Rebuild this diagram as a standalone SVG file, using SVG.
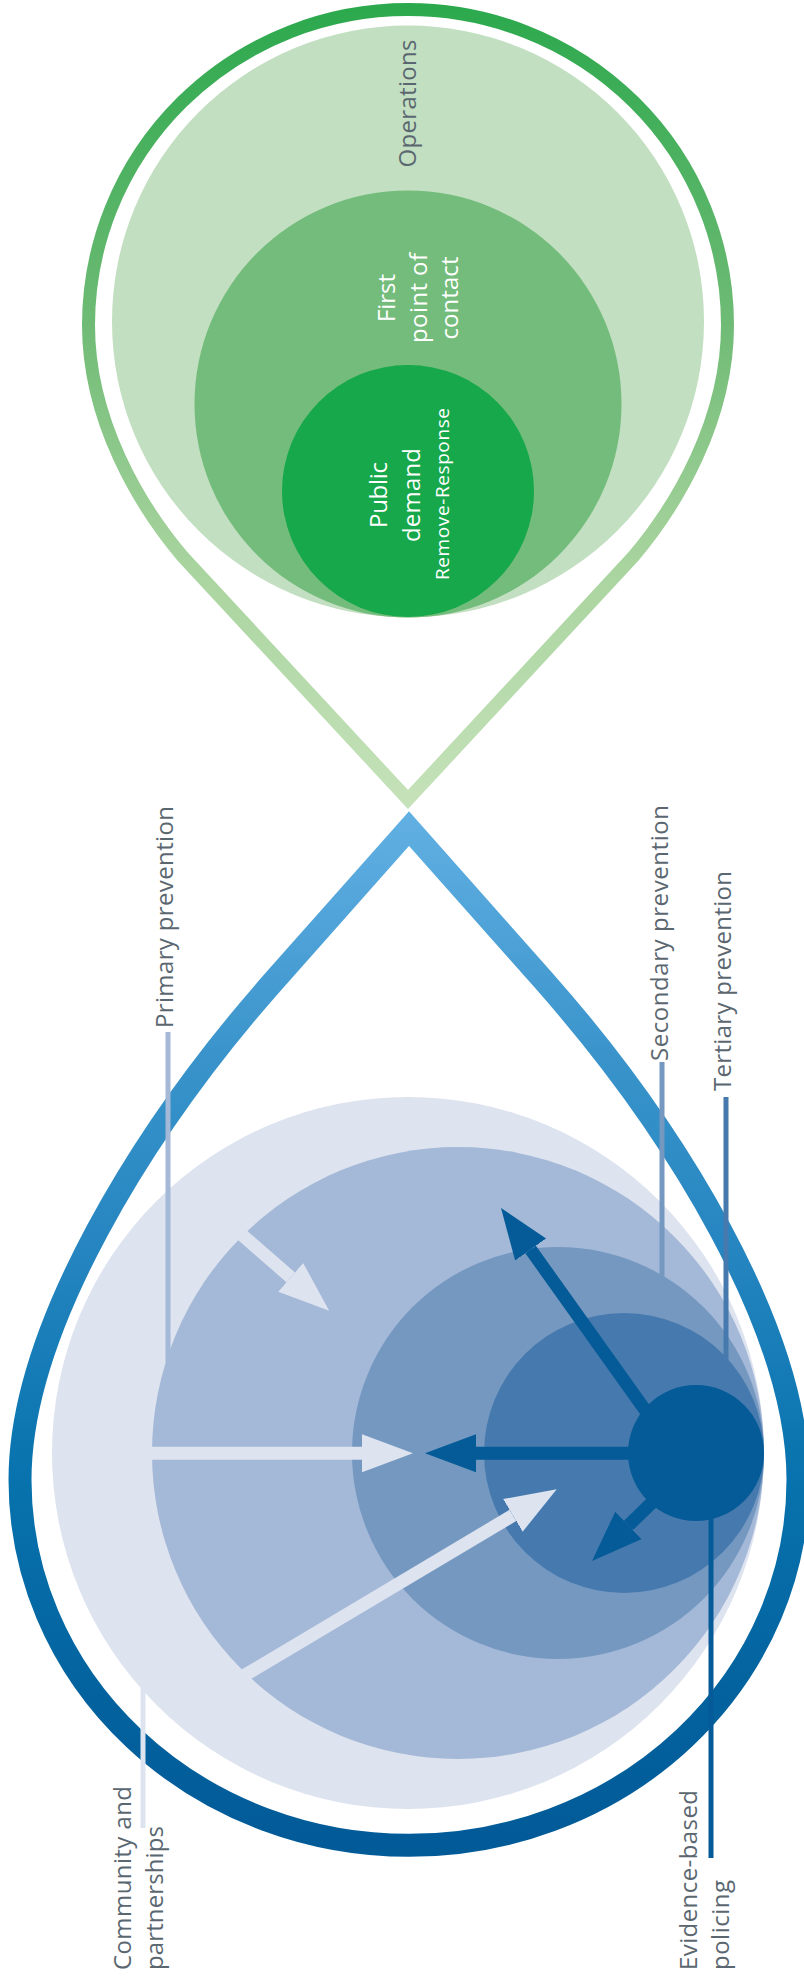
<svg xmlns="http://www.w3.org/2000/svg" width="804" height="1984" viewBox="0 0 804 1984">
  <defs>
    <style>
      .lbl { font-family: "Open Sans", "Noto Sans", sans-serif; font-size: 24px; fill: #5B6770; }
      .inner { font-family: "Open Sans", "Noto Sans", sans-serif; font-size: 24px; fill: #FFFFFF; text-anchor: middle; }
      .small { font-size: 19px; }
      .frame { fill: none; stroke-linejoin: miter; stroke-miterlimit: 10; }
      .shaft { stroke-width: 13; stroke-linecap: butt; }
      .lightArrow { stroke: #DDE3EF; marker-end: url(#headLight); }
      .darkArrow { stroke: #045B97; marker-end: url(#headDark); }
      .leader { stroke-width: 5; fill: none; }
    </style>
    <linearGradient id="gGreen" gradientUnits="userSpaceOnUse" x1="0" y1="0" x2="0" y2="810">
      <stop offset="0" stop-color="#2AA84C"/>
      <stop offset="0.4" stop-color="#6FBB75"/>
      <stop offset="0.7" stop-color="#A9D49F"/>
      <stop offset="1" stop-color="#C6E2BA"/>
    </linearGradient>
    <linearGradient id="gBlue" gradientUnits="userSpaceOnUse" x1="0" y1="812" x2="0" y2="1858">
      <stop offset="0" stop-color="#62B0E3"/>
      <stop offset="0.23" stop-color="#3A94CB"/>
      <stop offset="0.42" stop-color="#2585C0"/>
      <stop offset="0.63" stop-color="#0873AE"/>
      <stop offset="0.85" stop-color="#03629E"/>
      <stop offset="1" stop-color="#025A97"/>
    </linearGradient>
    <marker id="headLight" markerUnits="userSpaceOnUse" viewBox="0 0 52 40" markerWidth="52" markerHeight="40" refX="0" refY="20" orient="auto">
      <path d="M0,1 L51,20 L0,39 Z" fill="#DDE3EF"/>
    </marker>
    <marker id="headDark" markerUnits="userSpaceOnUse" viewBox="0 0 52 40" markerWidth="52" markerHeight="40" refX="0" refY="20" orient="auto">
      <path d="M0,1 L51,20 L0,39 Z" fill="#045B97"/>
    </marker>
  </defs>

  <!-- upper pin: response side -->
  <g id="response-frame">
    <path class="frame" stroke="url(#gGreen)" stroke-width="13"
          d="M408,799.5 L183,557 C139,505 88.5,420 88.5,325 A319.5 315.5 0 0 1 727.5,325 C727.5,420 677,505 633,557 Z"/>
  </g>

  <g id="operations">
    <circle cx="408" cy="321.5" r="296" fill="#C2DFC1"/>
    <text class="lbl" transform="translate(416,167.5) rotate(-90)" textLength="128" lengthAdjust="spacing">Operations</text>
  </g>

  <g id="first-point-of-contact">
    <circle cx="408" cy="404" r="213.5" fill="#74BC7B"/>
    <text class="inner" transform="translate(395,298) rotate(-90)" textLength="48" lengthAdjust="spacing">First</text>
    <text class="inner" transform="translate(426.5,298) rotate(-90)" textLength="90" lengthAdjust="spacing">point of</text>
    <text class="inner" transform="translate(458,298) rotate(-90)" textLength="83" lengthAdjust="spacing">contact</text>
  </g>

  <g id="public-demand">
    <circle cx="408" cy="491" r="126" fill="#16A84A"/>
    <text class="inner" transform="translate(387,495) rotate(-90)" textLength="66" lengthAdjust="spacing">Public</text>
    <text class="inner" transform="translate(420,495) rotate(-90)" textLength="94" lengthAdjust="spacing">demand</text>
    <text class="inner small" transform="translate(448.5,494) rotate(-90)" textLength="172" lengthAdjust="spacing">Remove-Response</text>
  </g>

  <!-- lower pin: prevention side -->
  <g id="prevention-frame">
    <path class="frame" stroke="url(#gBlue)" stroke-width="23"
          d="M409,828.6 L274.7,980 C142,1130 20,1330 20,1480 A389 365.5 0 0 0 798,1480 C798,1330 676,1130 543.3,980 Z"/>
  </g>

  <g id="community-partnerships">
    <circle cx="408" cy="1453" r="356" fill="#DDE3EF"/>
    <text class="lbl" transform="translate(131,1970) rotate(-90)" textLength="184" lengthAdjust="spacing">Community and</text>
    <text class="lbl" transform="translate(163,1970) rotate(-90)" textLength="144" lengthAdjust="spacing">partnerships</text>
  </g>

  <g id="primary-prevention">
    <circle cx="458" cy="1453" r="306" fill="#A4B8D7"/>
    <text class="lbl" transform="translate(173,1028) rotate(-90)" textLength="222" lengthAdjust="spacing">Primary prevention</text>
  </g>

  <g id="secondary-prevention">
    <circle cx="558" cy="1453" r="206" fill="#7598C1"/>
    <text class="lbl" transform="translate(668,1061) rotate(-90)" textLength="256" lengthAdjust="spacing">Secondary prevention</text>
  </g>

  <g id="tertiary-prevention">
    <circle cx="624" cy="1453" r="140" fill="#467AAE"/>
    <text class="lbl" transform="translate(731,1091) rotate(-90)" textLength="220" lengthAdjust="spacing">Tertiary prevention</text>
  </g>

  <g id="evidence-based-policing">
    <circle cx="696" cy="1453" r="68" fill="#045B97"/>
    <text class="lbl" transform="translate(697,1970) rotate(-90)" textLength="180" lengthAdjust="spacing">Evidence-based</text>
    <text class="lbl" transform="translate(729,1970) rotate(-90)" textLength="90" lengthAdjust="spacing">policing</text>
  </g>

  <g id="connectors">
    <!-- leader lines from labels to their rings -->
    <line class="leader" stroke="#A4B8D7" x1="168" y1="1032" x2="168" y2="1362"/>
    <line class="leader" stroke="#7598C1" x1="662" y1="1062" x2="662" y2="1280"/>
    <line class="leader" stroke="#467AAE" x1="726" y1="1097" x2="726" y2="1362"/>
    <line class="leader" stroke="#045B97" x1="711" y1="1500" x2="711" y2="1858"/>
    <line class="leader" stroke="#DDE3EF" x1="143" y1="1680" x2="143" y2="1828"/>

    <!-- inward arrows from community and partnerships -->
    <line class="shaft lightArrow" x1="130" y1="1453.3" x2="362" y2="1453.3"/>
    <line class="shaft lightArrow" x1="230.7" y1="1225.2" x2="290.7" y2="1277.3"/>
    <line class="shaft lightArrow" x1="233.1" y1="1682.2" x2="512.9" y2="1515.4"/>

    <!-- outward arrows from evidence-based policing -->
    <line class="shaft darkArrow" x1="680" y1="1453.3" x2="476" y2="1453.3"/>
    <line class="shaft darkArrow" x1="666.5" y1="1440" x2="530.6" y2="1249.5"/>
    <line class="shaft darkArrow" x1="667.9" y1="1487" x2="628.5" y2="1525.4"/>
  </g>
</svg>
